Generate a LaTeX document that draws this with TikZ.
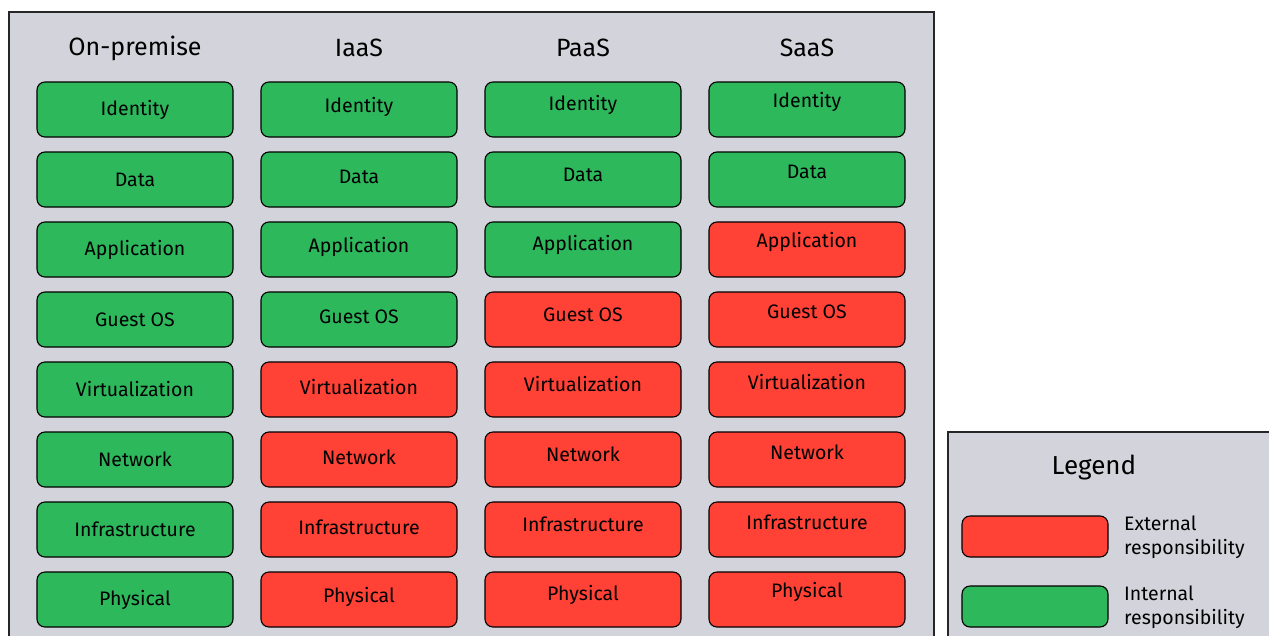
\documentclass[tikz,border=0pt]{standalone}
\usepackage{fontspec}
\setmainfont{Fira Sans}
\definecolor{panelbg}{HTML}{D3D3DB}
\definecolor{intgreen}{HTML}{2EB85C}
\definecolor{extred}{HTML}{FF4136}
\tikzset{
  panel/.style={draw=black!85, line width=1.3pt, fill=panelbg},
  cell/.style={draw=black, line width=1.1pt, rounded corners=8pt, minimum width=196pt, minimum height=55pt, inner sep=0pt},
  gcell/.style={cell, fill=intgreen},
  rcell/.style={cell, fill=extred},
  celltext/.style={inner sep=0pt, font=\fontsize{19.5}{22}\selectfont},
  colhead/.style={font=\fontsize{25}{30}\selectfont, inner sep=0pt},
  legtext/.style={font=\fontsize{19.5}{24}\selectfont, align=left, anchor=west, inner sep=0pt},
}
\begin{document}
\begin{tikzpicture}[x=1pt,y=-1pt]
\useasboundingbox (0,0) rectangle (1269,635);
\begin{scope}
\clip (0,0) rectangle (1269,635);
\draw[panel] (9,12) rectangle (934,660);
\draw[panel] (948,432) rectangle (1290,660);
\end{scope}
% headers
\node[colhead] (h1) at (135,48) {On-premise};
\node[colhead] (h2) at (359,48) {IaaS};
\node[colhead] (h3) at (583,48) {PaaS};
\node[colhead] (h4) at (807,48) {SaaS};
% columns
\foreach \col/\cx/\dy/\nred in {1/135/0/0, 2/359/-2.5/4, 3/583/-5/5, 4/807/-7.5/6}{
  \foreach \lab [count=\r] in {Identity,Data,Application,Guest OS,Virtualization,Network,Infrastructure,Physical}{
    \pgfmathtruncatemacro{\isred}{(\nred>0) && (\r>8-\nred)}
    \ifnum\isred=1
      \node[rcell] (c\col-\r) at (\cx,{109.5+(\r-1)*70}) {};
    \else
      \node[gcell] (c\col-\r) at (\cx,{109.5+(\r-1)*70}) {};
    \fi
    \node[celltext] (t\col-\r) at ([yshift=-\dy pt]c\col-\r.center) {\lab};
  }
}
% legend
\node[colhead, font=\fontsize{26}{30}\selectfont] (legtitle) at (1094,468) {Legend};
\node[rcell, minimum width=146pt, minimum height=41pt] (legred) at (1035,536.5) {};
\node[gcell, minimum width=146pt, minimum height=41pt] (leggreen) at (1035,606.5) {};
\node[legtext] (legredt) at (1124,537) {External\\responsibility};
\node[legtext] (leggreent) at (1124,607) {Internal\\responsibility};
\end{tikzpicture}
\end{document}
